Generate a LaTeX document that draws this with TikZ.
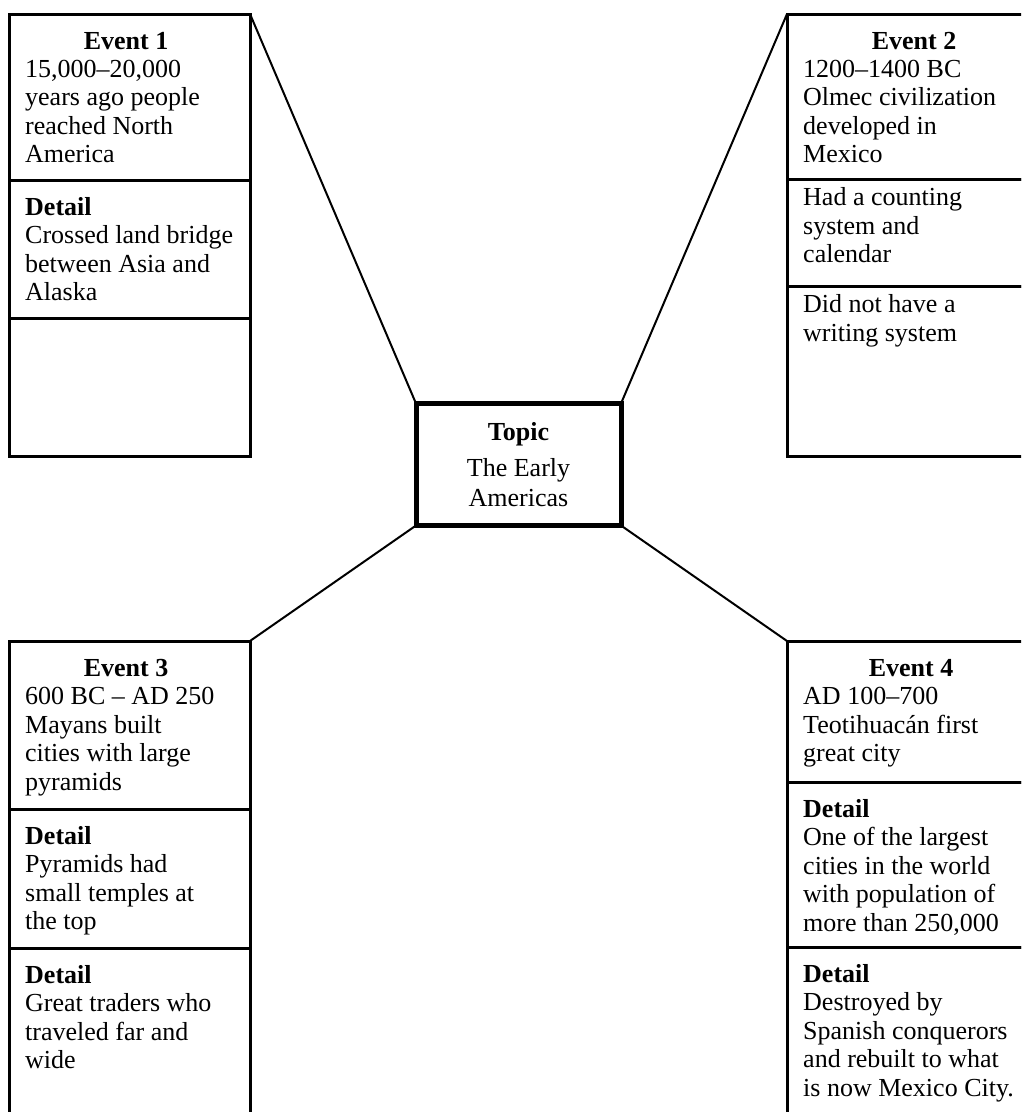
\documentclass[tikz,border=0pt]{standalone}
\usepackage{fontspec}
\setmainfont{Liberation Serif}
\usetikzlibrary{positioning}

\tikzset{
  cell/.style={draw, line width=3pt, minimum width=241pt, minimum height=#1pt,
    anchor=north west, inner sep=0pt, outer sep=0pt},
  wide/.style={minimum width=260pt},
  body/.style={anchor=north west, align=left, inner sep=0pt,
    font=\fontsize{26}{28.5}\selectfont, execute at begin node=\strut},
  head/.style={anchor=base, inner sep=0pt, font=\fontsize{26}{28.5}\selectfont\bfseries},
  topicbox/.style={draw, line width=5pt, minimum width=205pt, minimum height=122pt,
    inner sep=0pt, outer sep=0pt, align=center, font=\fontsize{26}{30}\selectfont},
  link/.style={line width=2pt}
}

\begin{document}
\begin{tikzpicture}[x=1pt,y=-1pt]
  \useasboundingbox (0,0) rectangle (1021,1112);
  \clip (0,0) rectangle (1021,1112);

  % centre
  \node[topicbox] (topic) at (518.5,464.5)
    {\textbf{Topic}\\[6pt]The Early\\Americas};

  % event 1
  \node[cell=166] (evOneA) at (9,14) {};
  \node[cell=138] (evOneB) at (evOneA.south west) {};
  \node[cell=138] (evOneC) at (evOneB.south west) {};
  \node[head] at ([shift={(117,35)}]evOneA.north west) {Event 1};
  \node[body] at ([shift={(16,46)}]evOneA.north west)
    {15,000–20,000\\years ago people\\reached North\\America};
  \node[body] at ([shift={(16,17)}]evOneB.north west)
    {\textbf{Detail}\\Crossed land bridge\\between Asia and\\Alaska};

  % event 2
  \node[cell=165, wide] (evTwoA) at (787,14) {};
  \node[cell=107, wide] (evTwoB) at (evTwoA.south west) {};
  \node[cell=170, wide] (evTwoC) at (evTwoB.south west) {};
  \node[head] at ([shift={(127,35)}]evTwoA.north west) {Event 2};
  \node[body] at ([shift={(16,46)}]evTwoA.north west)
    {1200–1400 BC\\Olmec civilization\\developed in\\Mexico};
  \node[body] at ([shift={(16,8.5)}]evTwoB.north west)
    {Had a counting\\system and\\calendar};
  \node[body] at ([shift={(16,8.5)}]evTwoC.north west)
    {Did not have a\\writing system};

  % event 3
  \node[cell=168] (evThreeA) at (9,641) {};
  \node[cell=139] (evThreeB) at (evThreeA.south west) {};
  \node[cell=220] (evThreeC) at (evThreeB.south west) {};
  \node[head] at ([shift={(117,35)}]evThreeA.north west) {Event 3};
  \node[body] at ([shift={(16,46)}]evThreeA.north west)
    {600 BC – AD 250\\Mayans built\\cities with large\\pyramids};
  \node[body] at ([shift={(16,17)}]evThreeB.north west)
    {\textbf{Detail}\\Pyramids had\\small temples at\\the top};
  \node[body] at ([shift={(16,17)}]evThreeC.north west)
    {\textbf{Detail}\\Great traders who\\traveled far and\\wide};

  % event 4
  \node[cell=141, wide] (evFourA) at (787,641) {};
  \node[cell=165, wide] (evFourB) at (evFourA.south west) {};
  \node[cell=220, wide] (evFourC) at (evFourB.south west) {};
  \node[head] at ([shift={(124,35)}]evFourA.north west) {Event 4};
  \node[body] at ([shift={(16,46)}]evFourA.north west)
    {AD 100–700\\Teotihuacán first\\great city};
  \node[body] at ([shift={(16,17)}]evFourB.north west)
    {\textbf{Detail}\\One of the largest\\cities in the world\\with population of\\more than 250,000};
  \node[body] at ([shift={(16,17)}]evFourC.north west)
    {\textbf{Detail}\\Destroyed by\\Spanish conquerors\\and rebuilt to what\\is now Mexico City.};

  % spokes
  \draw[link] (evOneA.north east) -- (topic.north west);
  \draw[link] (evTwoA.north west) -- (topic.north east);
  \draw[link] (topic.south west) -- (evThreeA.north east);
  \draw[link] (topic.south east) -- (evFourA.north west);
\end{tikzpicture}
\end{document}
